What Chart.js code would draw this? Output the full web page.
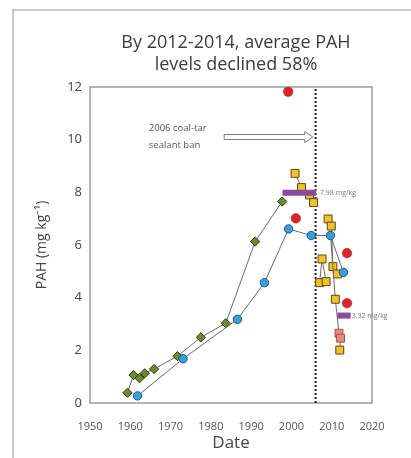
<!DOCTYPE html>
<html>
<head>
<meta charset="utf-8">
<script src="https://cdn.jsdelivr.net/npm/chart.js@4"></script>
<style>
  html, body { margin: 0; padding: 0; background: #fff; }
  #wrap { width: 411px; height: 458px; }
</style>
</head>
<body>
<div id="wrap"><canvas id="pahChart" width="411" height="458"></canvas></div>
<script>
// values (year, PAH mg/kg)
const greenYears = [1959.3, 1960.8, 1962.3, 1963.6, 1965.9, 1971.7, 1977.5, 1983.7, 1991.0, 1997.7]
const greenPAH = [0.39, 1.06, 0.94, 1.13, 1.29, 1.78, 2.49, 3.03, 6.13, 7.65]

const blueYears = [1961.8, 1973.1, 1986.6, 1993.3, 1999.3, 2004.9, 2009.7, 2012.9]
const bluePAH = [0.27, 1.68, 3.18, 4.57, 6.61, 6.36, 6.36, 4.96]

const yellowPreYears = [2000.9, 2002.5, 2004.5, 2005.5]
const yellowPrePAH = [8.72, 8.18, 7.9, 7.61]

const yellowAYears = [2009.1, 2009.9, 2010.3, 2011.4]
const yellowAPAH = [6.99, 6.72, 5.18, 4.9]

const yellowBYears = [2007.0, 2007.6, 2008.6]
const yellowBPAH = [4.57, 5.47, 4.61]

const tailYears = [2009.7, 2010.9, 2011.8, 2012.2, 2012.0]
const tailPAH = [6.36, 3.94, 2.65, 2.46, 2.01]

const redYears = [1999.2, 2001.1, 2013.8, 2013.8]
const redPAH = [11.82, 7.01, 5.69, 3.79]

const beforeBanYears = [1997.8, 2006.1]
const beforeBanAvg = 7.98
const afterBanYears = [2011.4, 2014.7]
const afterBanAvg = 3.32

const banYear = 2006
const xTicks = [1950, 1960, 1970, 1980, 1990, 2000, 2010, 2020]
const yTicks = [0, 2, 4, 6, 8, 10, 12]
const titleLines = ["By 2012-2014, average PAH", "levels declined 58%"]

const toPts = (xs, ys) => xs.map((x, i) => ({ x: x, y: ys[i] }))

const YELLOW = "#f2c22c"
const YELLOW_EDGE = "#5c4a06"
const PINK = "#e58c7c"
const PINK_EDGE = "#a05548"
const LINE_GRAY = "#6a6a6a"

const frameAndNotes = {
  id: "frameAndNotes",
  beforeDraw(chart) {
    const ctx = chart.ctx
    ctx.save()
    ctx.fillStyle = "#fff"
    ctx.fillRect(0, 0, chart.width, chart.height)
    ctx.strokeStyle = "#c9c9c9"
    ctx.lineWidth = 2
    ctx.beginPath()
    ctx.moveTo(13, chart.height)
    ctx.lineTo(13, 10)
    ctx.lineTo(chart.width, 10)
    ctx.stroke()

    // title, centred over the plot a little to the right like the figure
    ctx.fillStyle = "#3c3c3c"
    ctx.font = "18px 'Open Sans'"
    ctx.textAlign = "center"
    ctx.textBaseline = "middle"
    ctx.fillText(titleLines[0], 236, 43)
    ctx.fillText(titleLines[1], 236, 65)
    ctx.restore()
  },
  beforeDatasetsDraw(chart) {
    const { ctx, chartArea: a } = chart
    ctx.save()
    ctx.strokeStyle = "#9c9c9c"
    ctx.lineWidth = 1.5
    ctx.strokeRect(a.left, a.top, a.right - a.left, a.bottom - a.top)
    ctx.restore()
  },
  afterDatasetsDraw(chart) {
    const { ctx, scales: { x, y } } = chart
    ctx.save()
    // hollow arrow pointing at the ban line
    const x0 = x.getPixelForValue(1983.3)
    const x1 = x.getPixelForValue(2005.3)
    const yy = y.getPixelForValue(10.1)
    const sh = 2.5, hh = 5.5, hl = 8
    ctx.beginPath()
    ctx.moveTo(x0, yy - sh)
    ctx.lineTo(x1 - hl, yy - sh)
    ctx.lineTo(x1 - hl, yy - hh)
    ctx.lineTo(x1, yy)
    ctx.lineTo(x1 - hl, yy + hh)
    ctx.lineTo(x1 - hl, yy + sh)
    ctx.lineTo(x0, yy + sh)
    ctx.closePath()
    ctx.fillStyle = "#fff"
    ctx.fill()
    ctx.strokeStyle = "#7a7a7a"
    ctx.lineWidth = 1
    ctx.stroke()

    ctx.fillStyle = "#555"
    ctx.font = "9.5px 'Open Sans'"
    ctx.textAlign = "left"
    ctx.textBaseline = "middle"
    ctx.fillText("2006 coal-tar", x.getPixelForValue(1964.6), y.getPixelForValue(10.45))
    ctx.fillText("sealant ban", x.getPixelForValue(1964.6), y.getPixelForValue(9.8))

    ctx.fillStyle = "#777"
    ctx.font = "7px 'Open Sans'"
    ctx.fillText(beforeBanAvg.toFixed(2) + " mg/kg", x.getPixelForValue(beforeBanYears[1]) + 4, y.getPixelForValue(beforeBanAvg))
    ctx.fillText(afterBanAvg.toFixed(2) + " mg/kg", x.getPixelForValue(afterBanYears[1]) + 1, y.getPixelForValue(afterBanAvg))
    ctx.restore()
  },
}

new Chart(document.getElementById("pahChart"), {
  type: "scatter",
  data: {
    datasets: [
      {
        label: "ban",
        data: [{ x: banYear, y: 0 }, { x: banYear, y: 12 }],
        showLine: true,
        borderColor: "#222",
        borderWidth: 2,
        borderDash: [2, 2],
        pointRadius: 0,
        order: 9,
      },
      {
        label: "green core",
        data: toPts(greenYears, greenPAH),
        showLine: true,
        borderColor: LINE_GRAY,
        borderWidth: 1,
        pointStyle: "rectRot",
        pointRadius: 4.6,
        pointBackgroundColor: "#6f8a2c",
        pointBorderColor: "#2d3b0c",
        pointBorderWidth: 1,
        order: 6,
      },
      {
        label: "blue core",
        data: toPts(blueYears, bluePAH),
        showLine: true,
        borderColor: LINE_GRAY,
        borderWidth: 1,
        pointStyle: "circle",
        pointRadius: 4.2,
        pointBackgroundColor: "#3a9fd8",
        pointBorderColor: "#1b5a80",
        pointBorderWidth: 1,
        order: 2,
      },
      {
        label: "yellow pre",
        data: toPts(yellowPreYears, yellowPrePAH),
        showLine: true,
        borderColor: LINE_GRAY,
        borderWidth: 1,
        pointStyle: "rect",
        pointRadius: 5.6,
        pointBackgroundColor: YELLOW,
        pointBorderColor: YELLOW_EDGE,
        pointBorderWidth: 1,
        order: 5,
      },
      {
        label: "yellow A",
        data: toPts(yellowAYears, yellowAPAH),
        showLine: true,
        borderColor: LINE_GRAY,
        borderWidth: 1,
        pointStyle: "rect",
        pointRadius: 5.6,
        pointBackgroundColor: YELLOW,
        pointBorderColor: YELLOW_EDGE,
        pointBorderWidth: 1,
        order: 4,
      },
      {
        label: "yellow B",
        data: toPts(yellowBYears, yellowBPAH),
        showLine: true,
        borderColor: LINE_GRAY,
        borderWidth: 1,
        pointStyle: "rect",
        pointRadius: 5.6,
        pointBackgroundColor: YELLOW,
        pointBorderColor: YELLOW_EDGE,
        pointBorderWidth: 1,
        order: 4,
      },
      {
        label: "tail",
        data: toPts(tailYears, tailPAH),
        showLine: true,
        borderColor: LINE_GRAY,
        borderWidth: 1,
        pointStyle: "rect",
        pointRadius: [0, 5.6, 5.6, 5.6, 5.6],
        pointBackgroundColor: [YELLOW, YELLOW, PINK, PINK, YELLOW],
        pointBorderColor: [YELLOW_EDGE, YELLOW_EDGE, PINK_EDGE, PINK_EDGE, YELLOW_EDGE],
        pointBorderWidth: 1,
        order: 3,
      },
      {
        label: "red",
        data: toPts(redYears, redPAH),
        showLine: false,
        pointStyle: "circle",
        pointRadius: 4.8,
        pointBackgroundColor: "#d8262a",
        pointBorderColor: "#b81c1f",
        pointBorderWidth: 0.5,
        order: 1,
      },
      {
        label: "avg before",
        data: beforeBanYears.map((v) => ({ x: v, y: beforeBanAvg })),
        showLine: true,
        borderColor: "#8a4b9e",
        borderWidth: 6,
        borderCapStyle: "butt",
        pointRadius: 0,
        order: 0,
      },
      {
        label: "avg after",
        data: afterBanYears.map((v) => ({ x: v, y: afterBanAvg })),
        showLine: true,
        borderColor: "#8a4b9e",
        borderWidth: 6,
        borderCapStyle: "butt",
        pointRadius: 0,
        order: 0,
      },
    ],
  },
  options: {
    responsive: false,
    animation: false,
    layout: { padding: { left: 0, right: 39, top: 87, bottom: 0 } },
    plugins: {
      legend: { display: false },
      tooltip: { enabled: false },
      title: { display: false },
    },
    scales: {
      x: {
        type: "linear",
        min: xTicks[0],
        max: xTicks[xTicks.length - 1],
        grid: { display: false, drawTicks: false },
        border: { display: false },
        afterBuildTicks: (s) => { s.ticks = xTicks.map((v) => ({ value: v })) },
        afterFit: (s) => { s.height = 55 },
        ticks: {
          padding: 17,
          color: "#555",
          font: { family: "'Open Sans'", size: 11 },
          callback: (v) => String(v),
        },
        title: {
          display: true,
          text: "Date",
          color: "#444",
          font: { family: "'Open Sans'", size: 17 },
          padding: { top: 0, bottom: 5 },
        },
      },
      y: {
        min: yTicks[0],
        max: yTicks[yTicks.length - 1],
        grid: { display: false, drawTicks: false },
        border: { display: false },
        afterBuildTicks: (s) => { s.ticks = yTicks.map((v) => ({ value: v })) },
        afterFit: (s) => { s.width = 90 },
        ticks: {
          padding: 8,
          color: "#444",
          font: { family: "'Open Sans'", size: 13 },
        },
        title: {
          display: true,
          text: "PAH (mg kg⁻¹)",
          color: "#444",
          font: { family: "'Open Sans'", size: 14 },
          padding: { top: 34, bottom: 0 },
        },
      },
    },
  },
  plugins: [frameAndNotes],
})
</script>
</body>
</html>
